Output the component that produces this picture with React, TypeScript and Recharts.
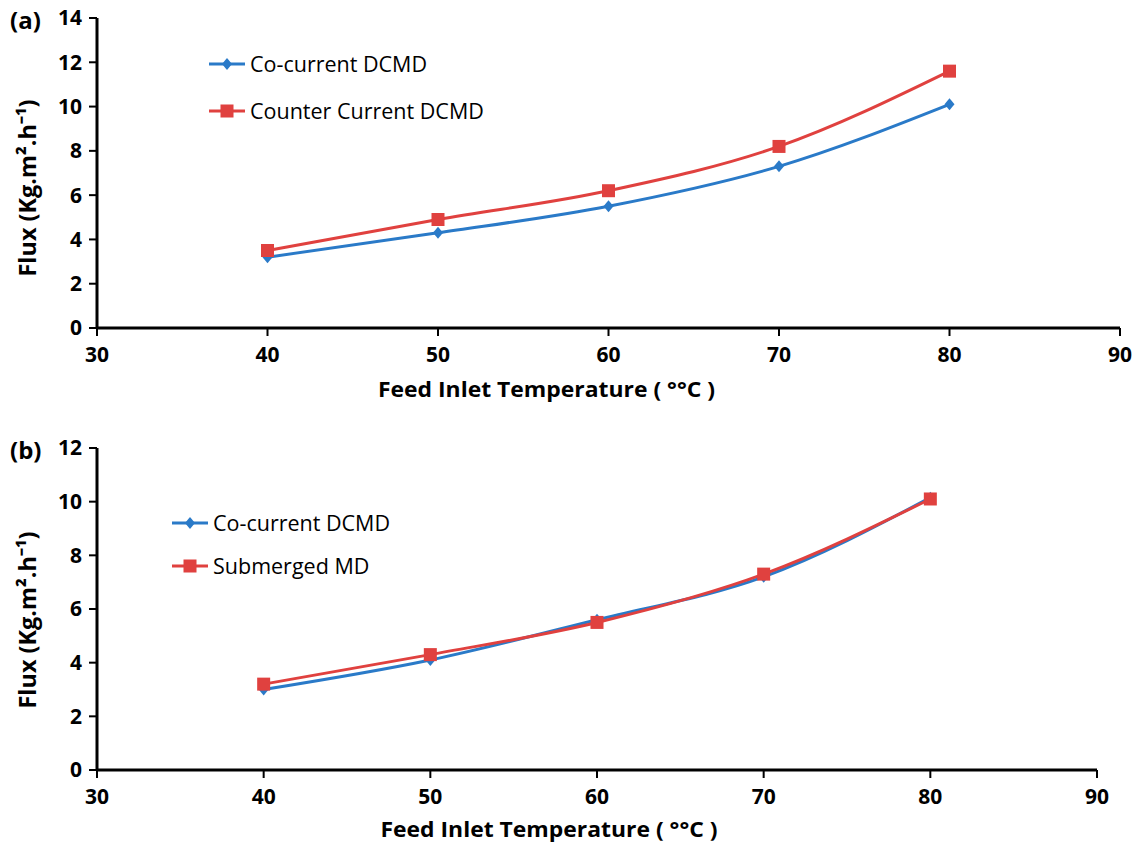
import React from "react";
import { LineChart, Line, XAxis, YAxis } from "recharts";

const temperatures = [40, 50, 60, 70, 80];
const coCurrentA = [3.2, 4.3, 5.5, 7.3, 10.1];
const counterCurrentA = [3.5, 4.9, 6.2, 8.2, 11.6];
const coCurrentB = [3.0, 4.1, 5.6, 7.2, 10.15];
const submergedB = [3.2, 4.3, 5.5, 7.3, 10.1];
const xTicks = [30, 40, 50, 60, 70, 80, 90];
const yTicksA = [0, 2, 4, 6, 8, 10, 12, 14];
const yTicksB = [0, 2, 4, 6, 8, 10, 12];

const dataA = temperatures.map((t, i) => ({ t, co: coCurrentA[i], counter: counterCurrentA[i] }));
const dataB = temperatures.map((t, i) => ({ t, co: coCurrentB[i], sub: submergedB[i] }));

const BLUE = "#2A7AC8";
const RED = "#E0413F";
const FONT = "'Open Sans', sans-serif";

const Diamond = (props: any) => {
  const { cx, cy } = props;
  if (cx == null || cy == null) return null;
  return <path d={`M${cx},${cy - 6} L${cx + 5},${cy} L${cx},${cy + 6} L${cx - 5},${cy} Z`} fill={BLUE} />;
};
const Square = (props: any) => {
  const { cx, cy } = props;
  if (cx == null || cy == null) return null;
  return <rect x={cx - 6.5} y={cy - 6.5} width={13} height={13} fill={RED} />;
};

const tickStyle = { fill: "#000", fontSize: 21, fontWeight: 700, fontFamily: FONT };

const LegendBox = ({ items, left, top, gap }: any) => (
  <div style={{ position: "absolute", left, top, fontFamily: FONT, fontSize: 21.5, color: "#000", whiteSpace: "nowrap" }}>
    {items.map((it: any, i: number) => (
      <div key={i} style={{ display: "flex", alignItems: "center", height: gap }}>
        <svg width={38} height={16} style={{ marginRight: 3 }}>
          <line x1={0} y1={8} x2={36} y2={8} stroke={it.color} strokeWidth={3} />
          {it.shape === "diamond" ? (
            <path d="M18,2 L23,8 L18,14 L13,8 Z" fill={it.color} />
          ) : (
            <rect x={11.5} y={1.5} width={13} height={13} fill={it.color} />
          )}
        </svg>
        <span>{it.label}</span>
      </div>
    ))}
  </div>
);

const xLabel = (dx: number, dy: number) => (props: any) => {
  const { viewBox } = props;
  const cx = viewBox.x + viewBox.width / 2 + dx;
  const cy = viewBox.y + dy;
  return (
    <text x={cx} y={cy} textAnchor="middle" dominantBaseline="central" fontFamily={FONT} fontSize={22} fontWeight={700} fill="#000"
      textLength={337} lengthAdjust="spacingAndGlyphs">
      Feed Inlet Temperature ( °°C )
    </text>
  );
};

const yLabel = (cxAbs: number, dy: number) => (props: any) => {
  const { viewBox } = props;
  const cy = viewBox.y + viewBox.height / 2 + dy;
  return (
    <text x={cxAbs} y={cy} transform={`rotate(-90, ${cxAbs}, ${cy})`} textAnchor="middle" dominantBaseline="central" fontFamily={FONT} fontSize={24} fontWeight={700} fill="#000"
      textLength={177} lengthAdjust="spacingAndGlyphs">
      Flux (Kg.m².h⁻¹)
    </text>
  );
};

export default function App() {
  return (
    <div style={{ position: "absolute", left: 0, top: 0, width: 1138, height: 843, background: "#fff", overflow: "hidden" }}>
      <div style={{ position: "absolute", left: 0, top: 0 }}>
        <LineChart width={1138} height={420} data={dataA} margin={{ top: 18, right: 18, left: 0, bottom: 0 }} style={{ overflow: "visible" }}>
          <XAxis dataKey="t" type="number" domain={[30, 90]} ticks={xTicks} height={92}
            stroke="#000" strokeWidth={3} tickSize={8} tickMargin={11} tick={tickStyle} tickLine={{ stroke: "#000", strokeWidth: 2 }}
            label={{ content: xLabel(-62, 60) }} />
          <YAxis type="number" domain={[0, 14]} ticks={yTicksA} width={97} interval={0}
            stroke="#000" strokeWidth={3} tickSize={8} tickMargin={7} tick={tickStyle} tickLine={{ stroke: "#000", strokeWidth: 2 }}
            label={{ content: yLabel(26, 15) }} />
          <Line type="monotone" dataKey="co" stroke={BLUE} strokeWidth={3} dot={<Diamond />} activeDot={false} isAnimationActive={false} />
          <Line type="monotone" dataKey="counter" stroke={RED} strokeWidth={3} dot={<Square />} activeDot={false} isAnimationActive={false} />
        </LineChart>
      </div>
      <LegendBox left={209} top={40} gap={47} items={[
        { label: "Co-current DCMD", color: BLUE, shape: "diamond" },
        { label: "Counter Current DCMD", color: RED, shape: "square" },
      ]} />
      <div style={{ position: "absolute", left: 0, top: 420 }}>
        <LineChart width={1138} height={423} data={dataB} margin={{ top: 28, right: 41, left: 0, bottom: 0 }} style={{ overflow: "visible" }}>
          <XAxis dataKey="t" type="number" domain={[30, 90]} ticks={xTicks} height={73}
            stroke="#000" strokeWidth={3} tickSize={8} tickMargin={11} tick={tickStyle} tickLine={{ stroke: "#000", strokeWidth: 2 }}
            label={{ content: xLabel(-48, 58) }} />
          <YAxis type="number" domain={[0, 12]} ticks={yTicksB} width={97} interval={0}
            stroke="#000" strokeWidth={3} tickSize={8} tickMargin={7} tick={tickStyle} tickLine={{ stroke: "#000", strokeWidth: 2 }}
            label={{ content: yLabel(26, 11) }} />
          <Line type="monotone" dataKey="co" stroke={BLUE} strokeWidth={3} dot={<Diamond />} activeDot={false} isAnimationActive={false} />
          <Line type="monotone" dataKey="sub" stroke={RED} strokeWidth={3} dot={<Square />} activeDot={false} isAnimationActive={false} />
        </LineChart>
      </div>
      <LegendBox left={172} top={501} gap={43} items={[
        { label: "Co-current DCMD", color: BLUE, shape: "diamond" },
        { label: "Submerged MD", color: RED, shape: "square" },
      ]} />
      <div style={{ position: "absolute", left: 10, top: 3, fontFamily: FONT, fontSize: 24, fontWeight: 700 }}>(a)</div>
      <div style={{ position: "absolute", left: 10, top: 433, fontFamily: FONT, fontSize: 24, fontWeight: 700 }}>(b)</div>
    </div>
  );
}
